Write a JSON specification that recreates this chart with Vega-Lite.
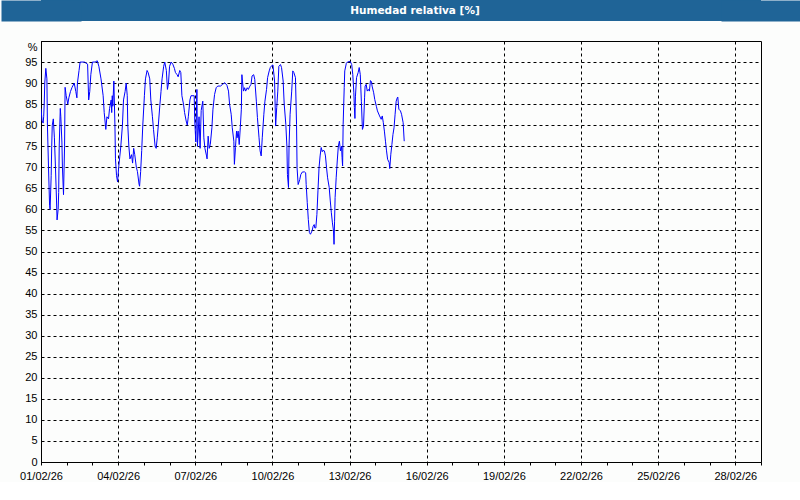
{
  "$schema": "https://vega.github.io/schema/vega-lite/v6.json",
  "background": "#fcfdfc",
  "padding": {"left": 0, "top": 0, "right": 39, "bottom": 0},
  "spacing": 19,
  "config": {
    "font": "Liberation Sans",
    "axis": {"labelFont": "Liberation Sans", "labelFontSize": 11, "labelColor": "#000000", "domainColor": "#000000", "domainWidth": 1, "tickColor": "#000000", "gridColor": "#000000", "gridOpacity": 1, "gridWidth": 1}
  },
  "vconcat": [
    {
      "width": 720,
      "height": 21,
      "data": {"values": [{"label": "Humedad relativa [%]"}]},
      "view": {"fill": "#1f6497", "stroke": null},
      "mark": {"type": "text", "color": "#ffffff", "font": "DejaVu Sans", "fontWeight": "bold", "fontSize": 10.5, "dx": 14, "baseline": "middle"},
      "encoding": {
        "text": {"field": "label", "type": "nominal"},
        "x": {"datum": 0.5, "type": "quantitative", "scale": {"domain": [0, 1], "nice": false, "zero": false},
          "axis": {"orient": "top", "values": [0, 1], "grid": true, "gridColor": "#1f6497", "gridWidth": 80, "gridCap": "butt", "domain": false, "ticks": false, "labels": false, "title": null}}
      }
    },
    {
      "width": 720,
      "height": 421,
      "view": {"stroke": "#000000", "strokeWidth": 1, "fill": null},
      "data": {"values": [
        {"t":"2026-02-01T00:00","hr":84},{"t":"2026-02-01T01:00","hr":81},{"t":"2026-02-01T02:00","hr":80.5},{"t":"2026-02-01T02:30","hr":82},{"t":"2026-02-01T03:00","hr":85},{"t":"2026-02-01T03:30","hr":90},{"t":"2026-02-01T04:30","hr":93.5},{"t":"2026-02-01T05:30","hr":91},{"t":"2026-02-01T06:00","hr":80},{"t":"2026-02-01T07:00","hr":70},{"t":"2026-02-01T08:00","hr":61},{"t":"2026-02-01T08:30","hr":60},{"t":"2026-02-01T09:30","hr":68},{"t":"2026-02-01T10:00","hr":75},{"t":"2026-02-01T10:30","hr":80},{"t":"2026-02-01T11:30","hr":81.5},{"t":"2026-02-01T12:30","hr":77},{"t":"2026-02-01T13:30","hr":70},{"t":"2026-02-01T14:30","hr":62},{"t":"2026-02-01T15:00","hr":57.5},{"t":"2026-02-01T16:00","hr":60},{"t":"2026-02-01T16:30","hr":64},{"t":"2026-02-01T17:00","hr":75},{"t":"2026-02-01T18:00","hr":84},{"t":"2026-02-01T18:30","hr":82},{"t":"2026-02-01T19:30","hr":76},{"t":"2026-02-01T20:00","hr":70},{"t":"2026-02-01T21:00","hr":63.5},{"t":"2026-02-01T22:00","hr":75},{"t":"2026-02-01T22:30","hr":89},{"t":"2026-02-01T23:30","hr":87},
        {"t":"2026-02-02T01:00","hr":85},{"t":"2026-02-02T02:00","hr":86.5},{"t":"2026-02-02T03:30","hr":88},{"t":"2026-02-02T05:00","hr":89},{"t":"2026-02-02T07:00","hr":90},{"t":"2026-02-02T08:30","hr":88},{"t":"2026-02-02T09:30","hr":86.5},{"t":"2026-02-02T10:00","hr":90},{"t":"2026-02-02T11:30","hr":93},{"t":"2026-02-02T12:30","hr":95},{"t":"2026-02-02T16:30","hr":95},{"t":"2026-02-02T19:30","hr":94.5},{"t":"2026-02-02T20:30","hr":86},{"t":"2026-02-02T21:30","hr":88},{"t":"2026-02-02T22:30","hr":92},
        {"t":"2026-02-03T00:00","hr":95},{"t":"2026-02-03T02:30","hr":95},{"t":"2026-02-03T04:30","hr":95.3},{"t":"2026-02-03T06:00","hr":94},{"t":"2026-02-03T08:00","hr":91},{"t":"2026-02-03T10:00","hr":87},{"t":"2026-02-03T11:00","hr":83},{"t":"2026-02-03T12:30","hr":79},{"t":"2026-02-03T13:30","hr":82},{"t":"2026-02-03T15:00","hr":81.5},{"t":"2026-02-03T16:00","hr":84},{"t":"2026-02-03T17:30","hr":86},{"t":"2026-02-03T18:00","hr":83},{"t":"2026-02-03T18:30","hr":87},{"t":"2026-02-03T19:00","hr":84.5},{"t":"2026-02-03T20:00","hr":90.5},{"t":"2026-02-03T21:00","hr":80},{"t":"2026-02-03T21:30","hr":72},{"t":"2026-02-03T22:30","hr":68},{"t":"2026-02-03T23:30","hr":66.5},
        {"t":"2026-02-04T00:30","hr":70},{"t":"2026-02-04T01:30","hr":72.5},{"t":"2026-02-04T02:30","hr":75},{"t":"2026-02-04T04:00","hr":80},{"t":"2026-02-04T05:00","hr":86},{"t":"2026-02-04T06:30","hr":88},{"t":"2026-02-04T07:30","hr":90},{"t":"2026-02-04T08:30","hr":87},{"t":"2026-02-04T09:00","hr":80},{"t":"2026-02-04T10:00","hr":75},{"t":"2026-02-04T11:00","hr":72},{"t":"2026-02-04T12:30","hr":73},{"t":"2026-02-04T13:30","hr":71},{"t":"2026-02-04T14:30","hr":74.5},{"t":"2026-02-04T15:30","hr":73},{"t":"2026-02-04T17:00","hr":70},{"t":"2026-02-04T18:00","hr":69},{"t":"2026-02-04T19:30","hr":66},{"t":"2026-02-04T20:00","hr":65.5},{"t":"2026-02-04T21:00","hr":69},{"t":"2026-02-04T22:00","hr":74},{"t":"2026-02-04T23:00","hr":80},
        {"t":"2026-02-05T00:30","hr":87},{"t":"2026-02-05T01:30","hr":91},{"t":"2026-02-05T03:00","hr":93},{"t":"2026-02-05T04:00","hr":92.5},{"t":"2026-02-05T05:30","hr":91},{"t":"2026-02-05T06:30","hr":86},{"t":"2026-02-05T08:00","hr":82},{"t":"2026-02-05T09:00","hr":79},{"t":"2026-02-05T10:30","hr":75},{"t":"2026-02-05T11:30","hr":74.5},{"t":"2026-02-05T12:30","hr":77},{"t":"2026-02-05T13:30","hr":80},{"t":"2026-02-05T15:00","hr":85},{"t":"2026-02-05T16:00","hr":88},{"t":"2026-02-05T17:00","hr":91},{"t":"2026-02-05T18:30","hr":94},{"t":"2026-02-05T19:30","hr":95},{"t":"2026-02-05T21:00","hr":93},{"t":"2026-02-05T22:00","hr":88.5},{"t":"2026-02-05T23:00","hr":90},
        {"t":"2026-02-06T00:00","hr":94},{"t":"2026-02-06T01:30","hr":95},{"t":"2026-02-06T03:00","hr":94.5},{"t":"2026-02-06T04:30","hr":93.5},{"t":"2026-02-06T05:30","hr":92.5},{"t":"2026-02-06T07:00","hr":92},{"t":"2026-02-06T08:00","hr":91.5},{"t":"2026-02-06T09:30","hr":93},{"t":"2026-02-06T10:30","hr":92.5},{"t":"2026-02-06T11:30","hr":87},{"t":"2026-02-06T13:00","hr":85},{"t":"2026-02-06T14:00","hr":83},{"t":"2026-02-06T15:30","hr":81},{"t":"2026-02-06T16:30","hr":80},{"t":"2026-02-06T17:30","hr":82},{"t":"2026-02-06T19:00","hr":86},{"t":"2026-02-06T20:00","hr":87},{"t":"2026-02-06T23:00","hr":87},{"t":"2026-02-06T23:30","hr":81},
        {"t":"2026-02-07T00:30","hr":76},{"t":"2026-02-07T01:30","hr":88.5},{"t":"2026-02-07T02:00","hr":75},{"t":"2026-02-07T03:30","hr":82},{"t":"2026-02-07T04:30","hr":74.5},{"t":"2026-02-07T05:30","hr":83.5},{"t":"2026-02-07T07:00","hr":85.7},{"t":"2026-02-07T08:00","hr":77},{"t":"2026-02-07T09:00","hr":74.5},{"t":"2026-02-07T10:30","hr":72.7},{"t":"2026-02-07T11:00","hr":72},{"t":"2026-02-07T12:00","hr":77.4},{"t":"2026-02-07T13:00","hr":74.5},{"t":"2026-02-07T14:00","hr":75.4},{"t":"2026-02-07T15:30","hr":79.4},{"t":"2026-02-07T16:30","hr":83.8},{"t":"2026-02-07T18:00","hr":87.3},{"t":"2026-02-07T19:30","hr":88.9},{"t":"2026-02-07T21:00","hr":89.3},{"t":"2026-02-07T23:30","hr":89.3},
        {"t":"2026-02-08T01:30","hr":89.7},{"t":"2026-02-08T03:30","hr":90.1},{"t":"2026-02-08T05:30","hr":89.5},{"t":"2026-02-08T07:00","hr":88.1},{"t":"2026-02-08T08:00","hr":85},{"t":"2026-02-08T09:30","hr":82.6},{"t":"2026-02-08T10:30","hr":79.4},{"t":"2026-02-08T12:00","hr":76.2},{"t":"2026-02-08T12:30","hr":70.7},{"t":"2026-02-08T13:30","hr":74.7},{"t":"2026-02-08T14:30","hr":78.6},{"t":"2026-02-08T15:00","hr":77},{"t":"2026-02-08T16:00","hr":78.6},{"t":"2026-02-08T17:00","hr":75.4},{"t":"2026-02-08T18:00","hr":79.4},{"t":"2026-02-08T19:00","hr":83.8},{"t":"2026-02-08T19:30","hr":92},{"t":"2026-02-08T20:00","hr":90.5},{"t":"2026-02-08T21:00","hr":88.1},{"t":"2026-02-08T22:00","hr":88.9},{"t":"2026-02-08T23:00","hr":88.1},
        {"t":"2026-02-09T00:30","hr":88.9},{"t":"2026-02-09T01:30","hr":88.5},{"t":"2026-02-09T03:00","hr":89.3},{"t":"2026-02-09T04:00","hr":89.7},{"t":"2026-02-09T05:00","hr":91.7},{"t":"2026-02-09T06:30","hr":92},{"t":"2026-02-09T07:30","hr":90.9},{"t":"2026-02-09T09:00","hr":85.7},{"t":"2026-02-09T10:00","hr":81.8},{"t":"2026-02-09T11:30","hr":77},{"t":"2026-02-09T12:30","hr":73.9},{"t":"2026-02-09T13:30","hr":72.7},{"t":"2026-02-09T14:30","hr":77},{"t":"2026-02-09T16:00","hr":82.6},{"t":"2026-02-09T17:00","hr":85.7},{"t":"2026-02-09T18:30","hr":88.5},{"t":"2026-02-09T19:30","hr":91.3},{"t":"2026-02-09T21:00","hr":92.9},{"t":"2026-02-09T22:00","hr":93.7},{"t":"2026-02-09T23:30","hr":94.2},
        {"t":"2026-02-10T00:30","hr":94.3},{"t":"2026-02-10T02:00","hr":90.5},{"t":"2026-02-10T03:00","hr":79.8},{"t":"2026-02-10T04:00","hr":84.2},{"t":"2026-02-10T05:00","hr":88.1},{"t":"2026-02-10T06:00","hr":94},{"t":"2026-02-10T07:30","hr":94.4},{"t":"2026-02-10T08:30","hr":93.7},{"t":"2026-02-10T10:00","hr":90.5},{"t":"2026-02-10T11:00","hr":85},{"t":"2026-02-10T12:30","hr":80.2},{"t":"2026-02-10T13:30","hr":75},{"t":"2026-02-10T14:00","hr":68.3},{"t":"2026-02-10T15:00","hr":65.2},{"t":"2026-02-10T15:30","hr":75},{"t":"2026-02-10T16:30","hr":82.6},{"t":"2026-02-10T18:00","hr":88.1},{"t":"2026-02-10T19:00","hr":92.9},{"t":"2026-02-10T20:00","hr":92.5},{"t":"2026-02-10T21:30","hr":91.3},{"t":"2026-02-10T22:30","hr":80.2},{"t":"2026-02-10T23:00","hr":69.9},
        {"t":"2026-02-11T00:00","hr":65.9},{"t":"2026-02-11T01:30","hr":67.1},{"t":"2026-02-11T02:30","hr":68.3},{"t":"2026-02-11T04:00","hr":68.9},{"t":"2026-02-11T06:00","hr":68.9},{"t":"2026-02-11T07:00","hr":68.7},{"t":"2026-02-11T07:30","hr":65.9},{"t":"2026-02-11T08:30","hr":61.6},{"t":"2026-02-11T09:30","hr":57.6},{"t":"2026-02-11T10:30","hr":54.5},{"t":"2026-02-11T11:30","hr":54.1},{"t":"2026-02-11T13:00","hr":54.9},{"t":"2026-02-11T14:00","hr":56},{"t":"2026-02-11T15:00","hr":56.4},{"t":"2026-02-11T15:30","hr":55.6},{"t":"2026-02-11T16:30","hr":55.6},{"t":"2026-02-11T17:30","hr":58.8},{"t":"2026-02-11T18:30","hr":64.4},{"t":"2026-02-11T19:30","hr":69.9},{"t":"2026-02-11T20:30","hr":72.7},{"t":"2026-02-11T21:30","hr":74.7},{"t":"2026-02-11T22:30","hr":73.7},{"t":"2026-02-11T23:00","hr":74},
        {"t":"2026-02-12T00:30","hr":73.9},{"t":"2026-02-12T01:30","hr":72.7},{"t":"2026-02-12T02:30","hr":69.9},{"t":"2026-02-12T03:30","hr":67.5},{"t":"2026-02-12T05:00","hr":65.2},{"t":"2026-02-12T06:00","hr":62},{"t":"2026-02-12T07:00","hr":59.2},{"t":"2026-02-12T08:00","hr":56.8},{"t":"2026-02-12T09:00","hr":54.9},{"t":"2026-02-12T09:30","hr":51.7},{"t":"2026-02-12T10:00","hr":57.2},{"t":"2026-02-12T10:30","hr":62.8},{"t":"2026-02-12T11:30","hr":67.5},{"t":"2026-02-12T12:30","hr":71.5},{"t":"2026-02-12T13:30","hr":75},{"t":"2026-02-12T14:30","hr":76.2},{"t":"2026-02-12T15:30","hr":73.9},{"t":"2026-02-12T16:30","hr":75},{"t":"2026-02-12T17:00","hr":72.3},{"t":"2026-02-12T17:30","hr":70.3},{"t":"2026-02-12T18:00","hr":80.2},{"t":"2026-02-12T19:00","hr":88.9},{"t":"2026-02-12T19:30","hr":92.9},{"t":"2026-02-12T21:00","hr":94.7},{"t":"2026-02-12T22:00","hr":95},{"t":"2026-02-12T23:30","hr":95.1},
        {"t":"2026-02-13T00:30","hr":95.2},{"t":"2026-02-13T02:00","hr":94.4},{"t":"2026-02-13T03:00","hr":92},{"t":"2026-02-13T04:00","hr":87.7},{"t":"2026-02-13T04:30","hr":84.2},{"t":"2026-02-13T05:00","hr":81.6},{"t":"2026-02-13T05:30","hr":86.9},{"t":"2026-02-13T06:30","hr":91.3},{"t":"2026-02-13T08:00","hr":92.5},{"t":"2026-02-13T09:00","hr":93.7},{"t":"2026-02-13T10:00","hr":92},{"t":"2026-02-13T11:00","hr":85.7},{"t":"2026-02-13T12:00","hr":79},{"t":"2026-02-13T13:00","hr":79.8},{"t":"2026-02-13T14:00","hr":86.5},{"t":"2026-02-13T14:30","hr":89.3},{"t":"2026-02-13T15:30","hr":89.7},{"t":"2026-02-13T16:30","hr":88.1},{"t":"2026-02-13T17:30","hr":88.5},{"t":"2026-02-13T18:30","hr":88.1},{"t":"2026-02-13T19:30","hr":90.6},{"t":"2026-02-13T20:30","hr":90.3},{"t":"2026-02-13T21:00","hr":89.3},{"t":"2026-02-13T22:30","hr":87.7},{"t":"2026-02-13T23:30","hr":86.1},
        {"t":"2026-02-14T01:00","hr":84.5},{"t":"2026-02-14T02:00","hr":83.4},{"t":"2026-02-14T04:00","hr":82.2},{"t":"2026-02-14T05:30","hr":81.4},{"t":"2026-02-14T06:30","hr":82.2},{"t":"2026-02-14T07:30","hr":80.6},{"t":"2026-02-14T08:30","hr":78.6},{"t":"2026-02-14T09:30","hr":76.2},{"t":"2026-02-14T10:30","hr":73.9},{"t":"2026-02-14T11:30","hr":71.9},{"t":"2026-02-14T13:00","hr":71.1},{"t":"2026-02-14T13:30","hr":69.7},{"t":"2026-02-14T14:30","hr":73.1},{"t":"2026-02-14T15:30","hr":75.4},{"t":"2026-02-14T16:30","hr":77.8},{"t":"2026-02-14T17:30","hr":79.4},{"t":"2026-02-14T18:30","hr":82.6},{"t":"2026-02-14T19:30","hr":85.7},{"t":"2026-02-14T20:30","hr":86.5},{"t":"2026-02-14T21:00","hr":86.7},{"t":"2026-02-14T22:00","hr":83.8},{"t":"2026-02-14T23:30","hr":83.4},
        {"t":"2026-02-15T00:30","hr":82.6},{"t":"2026-02-15T02:00","hr":80.6},{"t":"2026-02-15T03:00","hr":76.2}
      ]},
      "mark": {"type": "line", "color": "#0000ff", "strokeWidth": 1, "clip": true},
      "encoding": {
        "x": {"field": "t", "type": "temporal",
          "scale": {"domain": [{"year": 2026, "month": 2, "date": 1}, {"year": 2026, "month": 3, "date": 1}], "nice": false},
          "axis": {
            "title": null,
            "values": [
              {"year": 2026, "month": 2, "date": 1}, {"year": 2026, "month": 2, "date": 2}, {"year": 2026, "month": 2, "date": 3}, {"year": 2026, "month": 2, "date": 4}, {"year": 2026, "month": 2, "date": 5}, {"year": 2026, "month": 2, "date": 6}, {"year": 2026, "month": 2, "date": 7}, {"year": 2026, "month": 2, "date": 8}, {"year": 2026, "month": 2, "date": 9}, {"year": 2026, "month": 2, "date": 10},
              {"year": 2026, "month": 2, "date": 11}, {"year": 2026, "month": 2, "date": 12}, {"year": 2026, "month": 2, "date": 13}, {"year": 2026, "month": 2, "date": 14}, {"year": 2026, "month": 2, "date": 15}, {"year": 2026, "month": 2, "date": 16}, {"year": 2026, "month": 2, "date": 17}, {"year": 2026, "month": 2, "date": 18}, {"year": 2026, "month": 2, "date": 19}, {"year": 2026, "month": 2, "date": 20},
              {"year": 2026, "month": 2, "date": 21}, {"year": 2026, "month": 2, "date": 22}, {"year": 2026, "month": 2, "date": 23}, {"year": 2026, "month": 2, "date": 24}, {"year": 2026, "month": 2, "date": 25}, {"year": 2026, "month": 2, "date": 26}, {"year": 2026, "month": 2, "date": 27}, {"year": 2026, "month": 2, "date": 28}, {"year": 2026, "month": 3, "date": 1}
            ],
            "labelExpr": "month(datum.value) == 1 && (date(datum.value) - 1) % 3 == 0 ? timeFormat(datum.value, '%d/%m/%y') : ''",
            "labelFlush": false,
            "labelOverlap": false,
            "labelPadding": 5,
            "tickSize": 3,
            "grid": true,
            "gridDash": [3, 3],
            "gridOpacity": {"condition": {"test": "month(datum.value) == 1 && (date(datum.value) - 1) % 3 == 0", "value": 1}, "value": 0}
          }
        },
        "y": {"field": "hr", "type": "quantitative",
          "scale": {"domain": [0, 100], "nice": false},
          "axis": {
            "title": null,
            "values": [0, 5, 10, 15, 20, 25, 30, 35, 40, 45, 50, 55, 60, 65, 70, 75, 80, 85, 90, 95, 100],
            "labelExpr": "datum.value == 100 ? '%' : datum.label",
            "labelBaseline": {"condition": {"test": "datum.value == 100", "value": "top"}, "value": "middle"},
            "ticks": false,
            "labelPadding": 4,
            "minExtent": 40,
            "maxExtent": 40,
            "grid": true,
            "gridDash": [3, 3]
          }
        }
      }
    }
  ]
}
